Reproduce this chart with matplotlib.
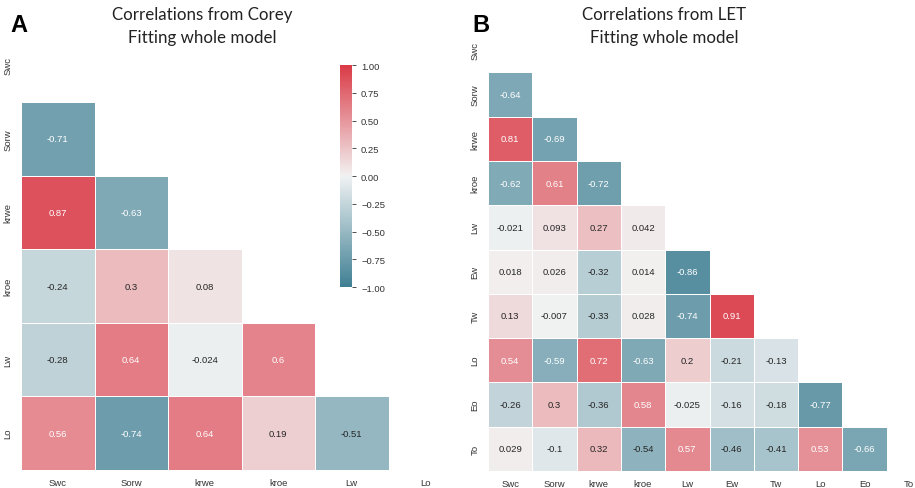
import numpy as np
import matplotlib
matplotlib.use("Agg")
import matplotlib.pyplot as plt
import seaborn as sns

# ---- data ----
vars_a = ["Swc", "Sorw", "krwe", "kroe", "Lw", "Lo"]
rows_a = [
    [],
    [-0.71],
    [0.87, -0.63],
    [-0.24, 0.3, 0.08],
    [-0.28, 0.64, -0.024, 0.6],
    [0.56, -0.74, 0.64, 0.19, -0.51],
]
vars_b = ["Swc", "Sorw", "krwe", "kroe", "Lw", "Ew", "Tw", "Lo", "Eo", "To"]
rows_b = [
    [],
    [-0.64],
    [0.81, -0.69],
    [-0.62, 0.61, -0.72],
    [-0.021, 0.093, 0.27, 0.042],
    [0.018, 0.026, -0.32, 0.014, -0.86],
    [0.13, -0.007, -0.33, 0.028, -0.74, 0.91],
    [0.54, -0.59, 0.72, -0.63, 0.2, -0.21, -0.13],
    [-0.26, 0.3, -0.36, 0.58, -0.025, -0.16, -0.18, -0.77],
    [0.029, -0.1, 0.32, -0.54, 0.57, -0.46, -0.41, 0.53, -0.66],
]
title_a = ["Correlations from Corey", "Fitting whole model"]
title_b = ["Correlations from LET", "Fitting whole model"]
cbar_ticks = [-1.0, -0.75, -0.5, -0.25, 0.0, 0.25, 0.5, 0.75, 1.0]


def build(rows):
    n = len(rows)
    m = np.full((n, n), np.nan)
    for i, r in enumerate(rows):
        for j, v in enumerate(r):
            m[i, j] = v
            m[j, i] = v
        m[i, i] = 1.0
    mask = np.triu(np.ones((n, n), dtype=bool))
    return m, mask


W, H = 915, 489
fig = plt.figure(figsize=(W / 100, H / 100), dpi=100)
cmap = sns.diverging_palette(220, 10, as_cmap=True)
small = ["Liberation Sans", "DejaVu Sans"]


def px(x0, y0, x1, y1):
    return [x0 / W, 1 - y1 / H, (x1 - x0) / W, (y1 - y0) / H]


axA = fig.add_axes(px(21, 29.5, 462, 471))
axB = fig.add_axes(px(488, 29, 931, 472))
cax = fig.add_axes(px(340, 66, 352, 288))

mA, maskA = build(rows_a)
mB, maskB = build(rows_b)

kws = {"size": 6.8, "family": small}
sns.heatmap(mA, mask=maskA, cmap=cmap, vmin=-1, vmax=1, center=0, annot=True,
            fmt=".2g", annot_kws=kws, linewidths=0.5, linecolor="white",
            xticklabels=vars_a, yticklabels=vars_a, ax=axA, cbar_ax=cax,
            square=False)
sns.heatmap(mB, mask=maskB, cmap=cmap, vmin=-1, vmax=1, center=0, annot=True,
            fmt=".2g", annot_kws=kws, linewidths=0.5, linecolor="white",
            xticklabels=vars_b, yticklabels=vars_b, ax=axB, cbar=False,
            square=False)

for ax in (axA, axB):
    ax.tick_params(length=0, labelsize=6.8, colors="#333333", pad=6)
    for t in ax.get_yticklabels():
        t.set_rotation(90)
        t.set_va("center")
        t.set_family(small)
    for t in ax.get_xticklabels():
        t.set_rotation(0)
        t.set_family(small)
axA.set_position(px(21, 29.5, 462, 471))
axB.set_position(px(488, 29, 931, 472))

cax.set_yticks(cbar_ticks)
cax.set_yticklabels(["%.2f" % t if t >= 0 else "\u2212%.2f" % abs(t) for t in cbar_ticks],
                    family=small)
cax.tick_params(labelsize=6.8, length=3, width=0.6, colors="#333333")
for s in cax.spines.values():
    s.set_visible(False)

tfont = dict(family=["Lato", "DejaVu Sans"], size=12.2, color="#222222",
             ha="center", va="center")
fig.text(202 / W, 1 - 15 / H, title_a[0], **tfont)
fig.text(202 / W, 1 - 38 / H, title_a[1], **tfont)
fig.text(664 / W, 1 - 15 / H, title_b[0], **tfont)
fig.text(664 / W, 1 - 38 / H, title_b[1], **tfont)

lfont = dict(family=["Liberation Sans", "DejaVu Sans"], size=17, weight="bold",
             color="black", ha="center", va="center")
fig.text(19 / W, 1 - 25 / H, "A", **lfont)
fig.text(481 / W, 1 - 25 / H, "B", **lfont)

fig.savefig("out.png", dpi=100)
